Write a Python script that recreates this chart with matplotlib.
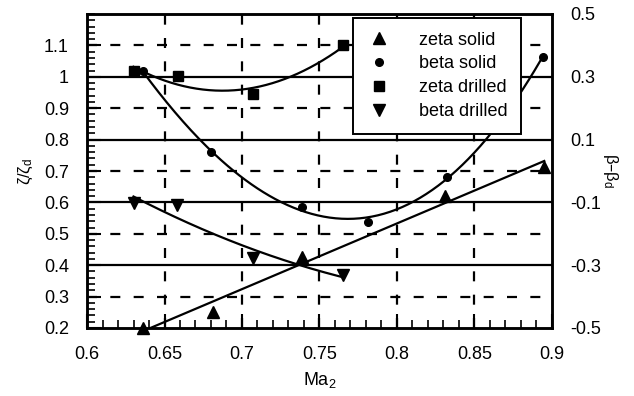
import numpy as np
import matplotlib
matplotlib.use("Agg")
import matplotlib.pyplot as plt
from matplotlib.ticker import MultipleLocator, FixedLocator

plt.rcParams['font.family'] = ['Liberation Sans', 'DejaVu Sans']
plt.rcParams['axes.unicode_minus'] = False
plt.rcParams['mathtext.default'] = 'regular'

# ---- data ----
zeta_solid_x = [0.636, 0.681, 0.739, 0.831, 0.895]
zeta_solid_y = [0.200, 0.250, 0.426, 0.620, 0.713]

beta_solid_x = [0.636, 0.680, 0.739, 0.781, 0.832, 0.894]
beta_solid_y = [0.318, 0.060, -0.115, -0.162, -0.019, 0.363]   # right axis (beta - beta_d)

zeta_drilled_x = [0.630, 0.659, 0.707, 0.765]
zeta_drilled_y = [1.018, 1.003, 0.945, 1.100]

beta_drilled_x = [0.630, 0.658, 0.707, 0.765]
beta_drilled_y = [-0.102, -0.108, -0.277, -0.331]              # right axis

x_ticks = [0.6, 0.65, 0.7, 0.75, 0.8, 0.85, 0.9]
x_labels = ["0.6", "0.65", "0.7", "0.75", "0.8", "0.85", "0.9"]
left_ticks = [0.2, 0.3, 0.4, 0.5, 0.6, 0.7, 0.8, 0.9, 1.0, 1.1]
left_labels = ["0.2", "0.3", "0.4", "0.5", "0.6", "0.7", "0.8", "0.9", "1", "1.1"]
right_ticks = [-0.5, -0.3, -0.1, 0.1, 0.3, 0.5]
right_labels = ["-0.5", "-0.3", "-0.1", "0.1", "0.3", "0.5"]

fig = plt.figure(figsize=(6.34, 3.96), dpi=100)
ax = fig.add_axes([87/634, 1-328/396, (552-87)/634, (328-14)/396])
ax2 = ax.twinx()

ax.set_xlim(0.6, 0.9)
ax.set_ylim(0.2, 1.2)
ax2.set_ylim(-0.5, 0.5)

lw_grid = 1.6
dash = (0, (4.5, 6))
# grids
for xv in x_ticks[1:-1]:
    ax.axvline(xv, color='black', lw=lw_grid, ls=dash, zorder=1)
for yv in [0.3, 0.5, 0.7, 0.9, 1.1]:
    ax.axhline(yv, color='black', lw=lw_grid, ls=dash, zorder=1)
for yv in right_ticks[1:-1]:
    ax2.axhline(yv, color='black', lw=1.6, zorder=1)

def trend(axis, xs, ys, deg):
    c = np.polyfit(xs, ys, deg)
    xx = np.linspace(min(xs), max(xs), 200)
    axis.plot(xx, np.polyval(c, xx), color='black', lw=1.6, zorder=3, clip_on=True)

trend(ax, zeta_solid_x, zeta_solid_y, 1)
trend(ax, zeta_drilled_x, zeta_drilled_y, 2)
trend(ax2, beta_solid_x, beta_solid_y, 3)
trend(ax2, beta_drilled_x, beta_drilled_y, 2)

h1, = ax.plot(zeta_solid_x, zeta_solid_y, ls='none', marker='^', ms=9, color='black', clip_on=False, zorder=4)
h2, = ax2.plot(beta_solid_x, beta_solid_y, ls='none', marker='o', ms=5.5, color='black', clip_on=False, zorder=4)
h3, = ax.plot(zeta_drilled_x, zeta_drilled_y, ls='none', marker='s', ms=7.5, color='black', clip_on=False, zorder=4)
h4, = ax2.plot(beta_drilled_x, beta_drilled_y, ls='none', marker='v', ms=9, color='black', clip_on=False, zorder=4)

# ticks
ax.xaxis.set_major_locator(FixedLocator(x_ticks))
ax.set_xticklabels(x_labels)
ax.xaxis.set_minor_locator(MultipleLocator(0.01))
ax.yaxis.set_major_locator(FixedLocator(left_ticks))
ax.set_yticklabels(left_labels)
ax.yaxis.set_minor_locator(MultipleLocator(0.02))
ax.tick_params(axis='both', which='major', direction='in', length=10, width=1.5,
               labelsize=13, top=False, right=False)
ax.tick_params(axis='x', which='major', pad=13)
ax.tick_params(axis='y', which='major', pad=13)
ax.tick_params(axis='both', which='minor', direction='in', length=6, width=1.2,
               top=False, right=False)
ax2.yaxis.set_major_locator(FixedLocator(right_ticks))
ax2.set_yticklabels(right_labels)
ax2.tick_params(axis='y', which='major', direction='in', length=0, labelsize=13, pad=13)
ax2.tick_params(axis='y', which='minor', length=0)

for a in (ax, ax2):
    for s in a.spines.values():
        s.set_linewidth(1.8)

ax.set_xlabel('Ma$_2$', fontsize=13, labelpad=5)
ax.set_ylabel('ζ/ζ$_d$', fontsize=12, labelpad=6)
ax2.set_ylabel('β–β$_d$', fontsize=12, rotation=270, labelpad=14)

leg = ax2.legend([h1, h2, h3, h4], ['zeta solid', 'beta solid', 'zeta drilled', 'beta drilled'],
                 loc='upper left', bbox_to_anchor=(0.572, 0.987), fontsize=13,
                 frameon=True, fancybox=False, framealpha=1, edgecolor='black',
                 handlelength=1.4, handletextpad=1.5, labelspacing=0.38, borderpad=0.75,
                 borderaxespad=0)
leg.get_frame().set_linewidth(1.4)
leg.set_zorder(10)

fig.savefig('out.png', dpi=100)
